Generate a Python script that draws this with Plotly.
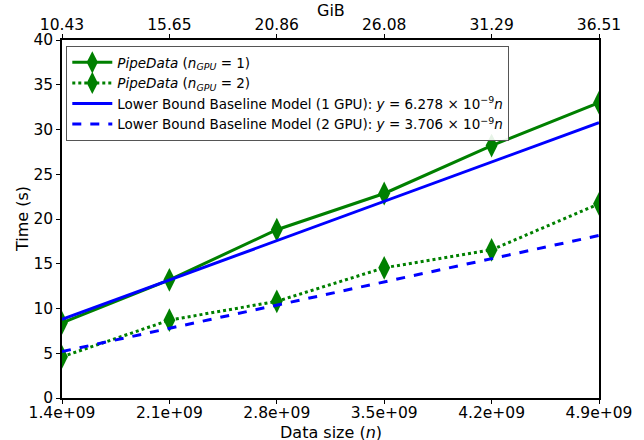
import plotly.graph_objects as go

data_size = [1.4e9, 2.1e9, 2.8e9, 3.5e9, 4.2e9, 4.9e9]
x_tick_labels = ["1.4e+09", "2.1e+09", "2.8e+09", "3.5e+09", "4.2e+09", "4.9e+09"]
gib_labels = ["10.43", "15.65", "20.86", "26.08", "31.29", "36.51"]
time_1gpu = [8.4, 13.2, 18.8, 22.85, 28.2, 33.0]
time_2gpu = [4.6, 8.7, 10.8, 14.55, 16.55, 21.7]
slope_1gpu = 6.278e-9
slope_2gpu = 3.706e-9

base_1 = [slope_1gpu * n for n in data_size]
base_2 = [slope_2gpu * n for n in data_size]

FONT = "DejaVu Sans"
GREEN = "#008000"
BLUE = "#0000ff"

fig = go.Figure()
fig.add_trace(go.Scatter(
    x=data_size, y=time_1gpu, mode="lines+markers",
    line=dict(color=GREEN, width=3),
    marker=dict(symbol="diamond-tall", size=17, color=GREEN),
    name="<i>PipeData</i> (<i>n<sub>GPU</sub></i> = 1)"))
fig.add_trace(go.Scatter(
    x=data_size, y=time_2gpu, mode="lines+markers",
    line=dict(color=GREEN, width=3, dash="dot"),
    marker=dict(symbol="diamond-tall", size=17, color=GREEN),
    name="<i>PipeData</i> (<i>n<sub>GPU</sub></i> = 2)"))
fig.add_trace(go.Scatter(
    x=data_size, y=base_1, mode="lines",
    line=dict(color=BLUE, width=3),
    name="Lower Bound Baseline Model (1 GPU): <i>y</i> = 6.278 × 10<sup>−9</sup><i>n</i>"))
fig.add_trace(go.Scatter(
    x=data_size, y=base_2, mode="lines",
    line=dict(color=BLUE, width=3, dash="dash"),
    name="Lower Bound Baseline Model (2 GPU): <i>y</i> = 3.706 × 10<sup>−9</sup><i>n</i>"))
# invisible trace to carry the top GiB axis
fig.add_trace(go.Scatter(
    x=data_size, y=time_1gpu, xaxis="x2", mode="markers",
    marker=dict(opacity=0), showlegend=False, hoverinfo="skip"))

axis_common = dict(
    showgrid=False, zeroline=False, showline=True, linecolor="black", linewidth=1.5,
    ticks="outside", ticklen=4, tickcolor="black", automargin=False,
    tickfont=dict(family=FONT, size=15.5, color="black"),
)

title_font = dict(family=FONT, size=16, color="black")

fig.update_layout(
    width=644, height=440,
    margin=dict(l=62, r=45, t=40, b=42),
    paper_bgcolor="white", plot_bgcolor="white",
    font=dict(family=FONT, size=13.5, color="black"),
    xaxis=dict(
        range=[1.4e9, 4.9e9], tickvals=data_size, ticktext=x_tick_labels,
        mirror=False, ticklabelstandoff=-4, **axis_common),
    xaxis2=dict(
        overlaying="x", side="top", matches="x",
        tickvals=data_size, ticktext=gib_labels, ticklabelstandoff=-2,
        **axis_common),
    yaxis=dict(
        range=[0, 40], tickvals=[0, 5, 10, 15, 20, 25, 30, 35, 40],
        mirror=True, **axis_common),
    legend=dict(
        x=0.008, y=0.983, xanchor="left", yanchor="top",
        bgcolor="rgba(255,255,255,0.9)", bordercolor="#555555", borderwidth=1,
        font=dict(family=FONT, size=13.5, color="black"),
        itemwidth=40, tracegroupgap=2),
    showlegend=True,
    annotations=[
        dict(text="Data size (<i>n</i>)", xref="paper", yref="paper", x=0.5, y=-0.095,
             xanchor="center", yanchor="middle", showarrow=False, font=title_font),
        dict(text="GiB", xref="paper", yref="paper", x=0.5, y=1.0824,
             xanchor="center", yanchor="middle", showarrow=False, font=title_font),
        dict(text="Time (s)", xref="paper", yref="paper", x=-0.0745, y=0.5, textangle=-90,
             xanchor="center", yanchor="middle", showarrow=False, font=title_font),
    ],
)

fig.write_html("out.html")
